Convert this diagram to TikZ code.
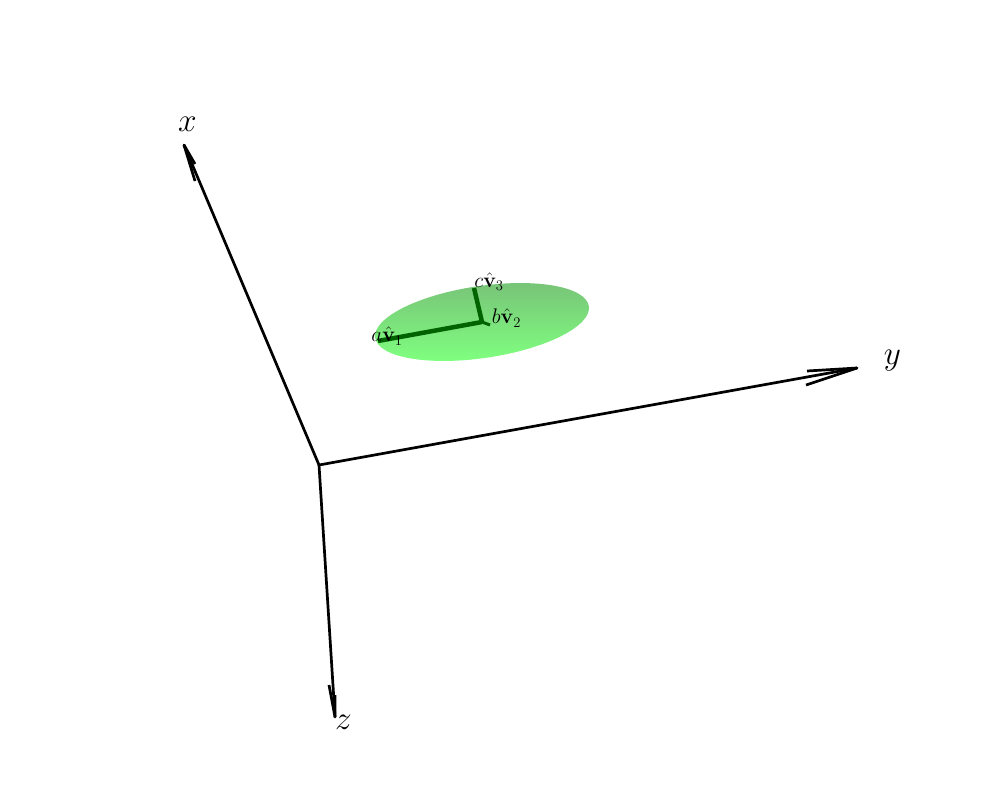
\documentclass[tikz,border=0pt]{standalone}
\usepackage{amsmath}
\tikzset{
  axisline/.style={line width=2.7pt,black,line cap=butt},
  axishead/.style={line width=2.7pt,black,line join=round},
  semiaxis/.style={line width=4.5pt,color=green!39!black},
  axislabel/.style={inner sep=0pt,scale=1.93,font=\fontsize{17.28}{20}\selectfont},
  semilabel/.style={inner sep=0pt,scale=1.22,font=\fontsize{17.28}{20}\selectfont}
}
\begin{document}
\begin{tikzpicture}[x=1pt,y=-1pt]
\useasboundingbox (0,0) rectangle (1000,797);
% ellipsoid
\begin{scope}
  \clip[rotate around={8.4:(482,322)}] (482,322) ellipse [x radius=108,y radius=36];
  \shade[top color={rgb,255:red,120;green,196;blue,120},bottom color={rgb,255:red,127;green,255;blue,127}]
    (370,283) rectangle (595,361);
\end{scope}
% semi-axes
\coordinate (c0) at (482,322);
\coordinate (a1) at (378,341);
\coordinate (b1) at (490,325);
\coordinate (c1) at (474,288);
\draw[semiaxis] (c0) -- (a1);
\draw[semiaxis,line width=3pt] (c0) -- (b1);
\draw[semiaxis] (c0) -- (c1);
\node[semilabel] (la) at (387,336) {$a\hat{\mathbf{v}}_1$};
\node[semilabel] (lb) at (506.5,318) {$b\hat{\mathbf{v}}_2$};
\node[semilabel] (lc) at (489,281.5) {$c\hat{\mathbf{v}}_3$};
% axes
\coordinate (o) at (319,465);
\coordinate (xt) at (184,145);
\coordinate (yt) at (857,368);
\coordinate (zt) at (335,717);
\coordinate (xb1) at (195,181);
\coordinate (xb2) at (195,164);
\coordinate (yb1) at (807,371);
\coordinate (yb2) at (806,385);
\coordinate (zb1) at (329,685);
\coordinate (zb2) at (335,695);
\draw[axisline] (o) -- (xt);
\draw[axisline] (o) -- (yt);
\draw[axisline] (o) -- (zt);
\draw[axishead] (xb1) -- (xt) -- (xb2);
\draw[axishead] (yb1) -- (yt) -- (yb2);
\draw[axishead] (zb1) -- (zt) -- (zb2);
\node[axislabel] (lx) at (187.5,124) {$x$};
\node[axislabel] (ly) at (892.5,361) {$y$};
\node[axislabel] (lz) at (343.5,722) {$z$};
\end{tikzpicture}
\end{document}
